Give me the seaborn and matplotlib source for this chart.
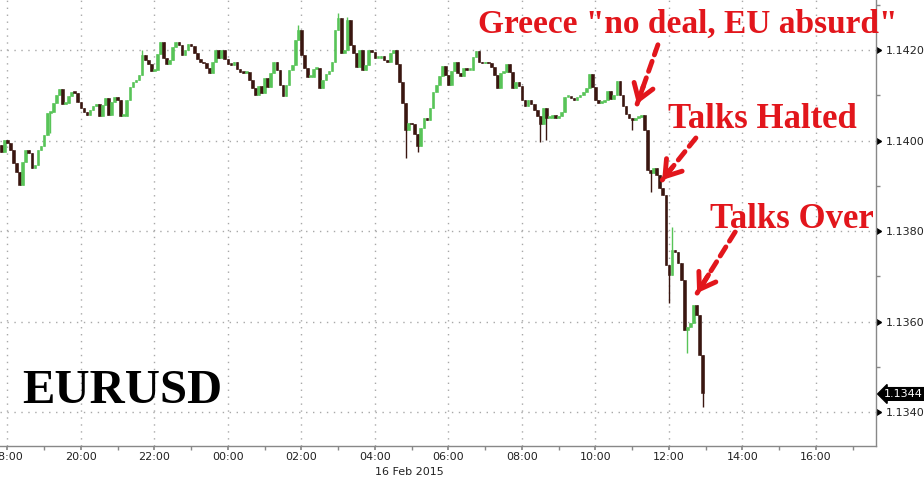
import matplotlib
matplotlib.use("Agg")
import matplotlib.pyplot as plt
import matplotlib.dates as mdates
from matplotlib.ticker import FixedLocator, MultipleLocator, FormatStrFormatter
import numpy as np
import pandas as pd
import seaborn as sns

# 5-minute EURUSD candles, 15 Feb 17:50 -> 16 Feb 12:55
START = "2015-02-15 17:50"
FREQ = "5min"
first_open = 1.13990
closes = [
    1.13975, 1.14002, 1.13995, 1.13980, 1.13951, 1.13931, 1.13902, 1.13953, 1.13980, 1.13973,
    1.13940, 1.13946, 1.13980, 1.13988, 1.14013, 1.14061, 1.14063, 1.14083, 1.14101, 1.14114,
    1.14081, 1.14083, 1.14099, 1.14108, 1.14105, 1.14086, 1.14072, 1.14063, 1.14057, 1.14068,
    1.14077, 1.14081, 1.14055, 1.14079, 1.14094, 1.14057, 1.14086, 1.14097, 1.14090, 1.14055,
    1.14055, 1.14090, 1.14119, 1.14130, 1.14134, 1.14145, 1.14189, 1.14178, 1.14170, 1.14154,
    1.14156, 1.14192, 1.14218, 1.14183, 1.14170, 1.14178, 1.14207, 1.14218, 1.14212, 1.14189,
    1.14201, 1.14214, 1.14209, 1.14194, 1.14181, 1.14175, 1.14171, 1.14161, 1.14150, 1.14173,
    1.14201, 1.14183, 1.14201, 1.14181, 1.14170, 1.14167, 1.14173, 1.14159, 1.14152, 1.14150,
    1.14152, 1.14134, 1.14117, 1.14102, 1.14121, 1.14105, 1.14139, 1.14119, 1.14150, 1.14173,
    1.14156, 1.14123, 1.14099, 1.14123, 1.14156, 1.14167, 1.14223, 1.14245, 1.14189, 1.14161,
    1.14141, 1.14141, 1.14159, 1.14161, 1.14117, 1.14134, 1.14147, 1.14154, 1.14173, 1.14245,
    1.14271, 1.14194, 1.14201, 1.14267, 1.14212, 1.14194, 1.14163, 1.14201, 1.14156, 1.14167,
    1.14201, 1.14196, 1.14183, 1.14183, 1.14187, 1.14178, 1.14173, 1.14194, 1.14201, 1.14170,
    1.14130, 1.14083, 1.14024, 1.14040, 1.14036, 1.14015, 1.13988, 1.14028, 1.14050, 1.14046,
    1.14072, 1.14108, 1.14123, 1.14143, 1.14165, 1.14145, 1.14123, 1.14154, 1.14175, 1.14150,
    1.14143, 1.14161, 1.14156, 1.14156, 1.14185, 1.14199, 1.14175, 1.14171, 1.14175, 1.14171,
    1.14163, 1.14145, 1.14117, 1.14150, 1.14152, 1.14170, 1.14152, 1.14117, 1.14130, 1.14121,
    1.14090, 1.14077, 1.14090, 1.14081, 1.14068, 1.14055, 1.14036, 1.14072, 1.14050, 1.14050,
    1.14057, 1.14050, 1.14055, 1.14063, 1.14097, 1.14097, 1.14094, 1.14090, 1.14097, 1.14102,
    1.14108, 1.14117, 1.14147, 1.14119, 1.14090, 1.14083, 1.14086, 1.14090, 1.14110, 1.14092,
    1.14102, 1.14132, 1.14101, 1.14077, 1.14059, 1.14050, 1.14046, 1.14050, 1.14052, 1.14057,
    1.14024, 1.13935, 1.13928, 1.13940, 1.13924, 1.13896, 1.13879, 1.13725, 1.13703, 1.13759,
    1.13754, 1.13730, 1.13692, 1.13582, 1.13588, 1.13597, 1.13637, 1.13615, 1.13526, 1.13443,
]
# wicks that stick out of the bodies
spike_highs = {
    "2015-02-15 21:40": 1.14201,
    "2015-02-16 01:55": 1.14256,
    "2015-02-16 03:00": 1.14282,
    "2015-02-16 03:15": 1.14273,
    "2015-02-16 12:05": 1.13809,
}
spike_lows = {
    "2015-02-15 19:10": 1.14017,
    "2015-02-16 04:50": 1.13962,
    "2015-02-16 05:10": 1.13975,
    "2015-02-16 08:30": 1.13997,
    "2015-02-16 08:40": 1.14002,
    "2015-02-16 11:00": 1.14024,
    "2015-02-16 11:30": 1.13887,
    "2015-02-16 12:00": 1.13641,
    "2015-02-16 12:30": 1.13531,
    "2015-02-16 12:55": 1.13412,
}
y_ticks = [1.1340, 1.1360, 1.1380, 1.1400, 1.1420]
last_price = 1.1344

UP = "#58c458"
DOWN = "#3a1610"
RED = "#e2161c"

# build candles
df = pd.DataFrame({"time": pd.date_range(START, periods=len(closes), freq=FREQ), "close": closes})
df["open"] = df["close"].shift(1).fillna(first_open)
df["high"] = df[["open", "close"]].max(axis=1)
df["low"] = df[["open", "close"]].min(axis=1)
for t, v in spike_highs.items():
    m = df.time == pd.Timestamp(t)
    df.loc[m, "high"] = np.maximum(df.loc[m, "high"], v)
for t, v in spike_lows.items():
    m = df.time == pd.Timestamp(t)
    df.loc[m, "low"] = np.minimum(df.loc[m, "low"], v)
df["color"] = np.where(df.close >= df.open, UP, DOWN)

sns.set_theme(style="white")
plt.rcParams["font.family"] = ["DejaVu Sans"]

fig = plt.figure(figsize=(9.24, 4.79), dpi=100)
ax = fig.add_axes([0, 1 - 446 / 479, 876 / 924, 446 / 479])

# wicks + bodies
ax.vlines(df.time, df.low, df.high, colors=df.color, lw=1.0, zorder=3)
body = np.maximum((df.close - df.open).abs(), 0.00004)
ax.bar(df.time, body, bottom=df[["open", "close"]].min(axis=1), width=4.4 / 1440,
       color=df.color, edgecolor=df.color, linewidth=0.4, zorder=3)

ax.set_xlim(pd.Timestamp("2015-02-15 17:48"), pd.Timestamp("2015-02-16 17:38"))
ax.set_ylim(1.13325, 1.14311)

# x axis
ax.xaxis.set_major_locator(mdates.HourLocator(byhour=range(0, 24, 2)))
ax.xaxis.set_minor_locator(mdates.HourLocator(byhour=range(1, 24, 2)))
ax.xaxis.set_major_formatter(mdates.DateFormatter("%H:%M"))
ax.tick_params(axis="x", which="both", length=3, color="#888888", direction="out",
               labelsize=8, labelcolor="#222222", pad=1.5, bottom=True)

# y axis on the right
ax.yaxis.tick_right()
ax.yaxis.set_major_locator(FixedLocator(y_ticks))
ax.yaxis.set_minor_locator(MultipleLocator(0.001))
ax.yaxis.set_major_formatter(FormatStrFormatter("%.4f"))
ax.tick_params(axis="y", which="major", length=0, pad=7, labelsize=8, labelcolor="#222222")
ax.tick_params(axis="y", which="minor", length=3, color="#888888", direction="out",
               right=True, left=False)
ax.plot([1.0] * len(y_ticks), y_ticks, transform=ax.get_yaxis_transform(), marker=9,
        ms=5, color="black", ls="none", clip_on=False)

ax.grid(True, which="major", color="#a8a8a8", linestyle=(0, (1, 4)), lw=1)
for s in ["top", "left"]:
    ax.spines[s].set_visible(False)
for s in ["right", "bottom"]:
    ax.spines[s].set_color("#888888")
    ax.spines[s].set_linewidth(1)

# last price tag
ax.text(1.0095, last_price, f"{last_price:.4f}", transform=ax.get_yaxis_transform(),
        color="white", fontsize=8, va="center", ha="left",
        bbox=dict(boxstyle="larrow,pad=0.12", fc="black", ec="black"))

ax.text(pd.Timestamp("2015-02-16 04:00"), -0.058, "16 Feb 2015", transform=ax.get_xaxis_transform(),
        fontsize=8, color="#222222", ha="left", va="center")

# labels
serif = dict(family="Liberation Serif", weight="bold")
fig.text(22 / 924, 1 - 403 / 479, "EURUSD", fontsize=35, color="black", ha="left",
         va="baseline", **serif)
fig.text(478 / 924, 1 - 33 / 479, 'Greece "no deal, EU absurd"', fontsize=24, color=RED,
         ha="left", va="baseline", **serif)
fig.text(668 / 924, 1 - 128 / 479, "Talks Halted", fontsize=25, color=RED, ha="left",
         va="baseline", **serif)
fig.text(710 / 924, 1 - 228 / 479, "Talks Over", fontsize=25, color=RED, ha="left",
         va="baseline", **serif)

# dashed arrows
arrows = [
    (("2015-02-16 11:42", 1.14212), ("2015-02-16 11:08", 1.14081)),
    (("2015-02-16 12:44", 1.14006), ("2015-02-16 11:49", 1.13913)),
    (("2015-02-16 13:48", 1.13798), ("2015-02-16 12:46", 1.13663)),
]
for (t0, p0), (t1, p1) in arrows:
    a = (mdates.date2num(pd.Timestamp(t0)), p0)
    b = (mdates.date2num(pd.Timestamp(t1)), p1)
    ax.annotate("", xy=b, xytext=a, zorder=5,
                arrowprops=dict(arrowstyle="-", color=RED, lw=3.5, linestyle=(0, (2.2, 1.4)),
                                shrinkA=0, shrinkB=0))
    # solid head
    hx = b[0] + (a[0] - b[0]) * 0.3
    hy = b[1] + (a[1] - b[1]) * 0.3
    ax.annotate("", xy=b, xytext=(hx, hy), zorder=6,
                arrowprops=dict(arrowstyle="->,head_length=0.9,head_width=0.6", color=RED,
                                lw=3.5, shrinkA=0, shrinkB=0))

fig.savefig("out.png", dpi=100)
